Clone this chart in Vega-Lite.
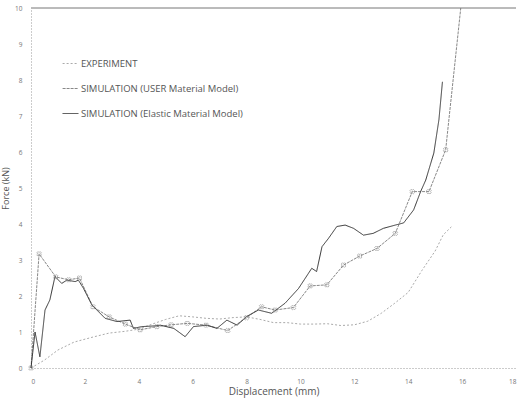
{
  "$schema": "https://vega.github.io/schema/vega-lite/v6.json",
  "width": 485,
  "height": 360,
  "autosize": {"type": "none"},
  "padding": {"left": 31, "top": 8, "right": 2, "bottom": 31},
  "background": "white",
  "config": {
    "view": {"stroke": null},
    "font": "Open Sans",
    "axisY": {
      "labelOverlap": false,
      "grid": false, "ticks": false,
      "domainDash": [1, 2], "domainColor": "#999",
      "labelFontSize": 6.5, "labelColor": "#777", "labelPadding": 9,
      "titleFontSize": 9, "titleFontWeight": "normal",
      "titleColor": "#555", "titlePadding": 4
    },
    "axisX": {
      "grid": false, "ticks": false,
      "domainDash": [1, 2], "domainColor": "#999",
      "labelFontSize": 6.5, "labelColor": "#777", "labelPadding": 10,
      "titleFontSize": 10, "titleFontWeight": "normal",
      "titleColor": "#555", "titlePadding": 2
    }
  },
  "datasets": {
    "curves": [
      {"series": "EXPERIMENT", "x": 0, "y": 0},
      {"series": "EXPERIMENT", "x": 0.5, "y": 0.22},
      {"series": "EXPERIMENT", "x": 1.0, "y": 0.5},
      {"series": "EXPERIMENT", "x": 1.6, "y": 0.72},
      {"series": "EXPERIMENT", "x": 2.3, "y": 0.86},
      {"series": "EXPERIMENT", "x": 2.9, "y": 0.97},
      {"series": "EXPERIMENT", "x": 3.5, "y": 1.02},
      {"series": "EXPERIMENT", "x": 4.0, "y": 1.08},
      {"series": "EXPERIMENT", "x": 4.5, "y": 1.22},
      {"series": "EXPERIMENT", "x": 5.0, "y": 1.35},
      {"series": "EXPERIMENT", "x": 5.5, "y": 1.45},
      {"series": "EXPERIMENT", "x": 6.0, "y": 1.42},
      {"series": "EXPERIMENT", "x": 6.5, "y": 1.38},
      {"series": "EXPERIMENT", "x": 7.0, "y": 1.36},
      {"series": "EXPERIMENT", "x": 7.5, "y": 1.4},
      {"series": "EXPERIMENT", "x": 8.0, "y": 1.42},
      {"series": "EXPERIMENT", "x": 8.5, "y": 1.35},
      {"series": "EXPERIMENT", "x": 9.0, "y": 1.26},
      {"series": "EXPERIMENT", "x": 9.5, "y": 1.26},
      {"series": "EXPERIMENT", "x": 10.0, "y": 1.22},
      {"series": "EXPERIMENT", "x": 10.5, "y": 1.22},
      {"series": "EXPERIMENT", "x": 11.0, "y": 1.23},
      {"series": "EXPERIMENT", "x": 11.5, "y": 1.18},
      {"series": "EXPERIMENT", "x": 12.0, "y": 1.2},
      {"series": "EXPERIMENT", "x": 12.5, "y": 1.3},
      {"series": "EXPERIMENT", "x": 13.0, "y": 1.52},
      {"series": "EXPERIMENT", "x": 13.5, "y": 1.8},
      {"series": "EXPERIMENT", "x": 14.0, "y": 2.1},
      {"series": "EXPERIMENT", "x": 14.5, "y": 2.7},
      {"series": "EXPERIMENT", "x": 15.0, "y": 3.25},
      {"series": "EXPERIMENT", "x": 15.3, "y": 3.7},
      {"series": "EXPERIMENT", "x": 15.6, "y": 3.92},
      {"series": "SIMULATION (USER Material Model)", "x": 0, "y": 0},
      {"series": "SIMULATION (USER Material Model)", "x": 0.3, "y": 3.17},
      {"series": "SIMULATION (USER Material Model)", "x": 0.92, "y": 2.53},
      {"series": "SIMULATION (USER Material Model)", "x": 1.4, "y": 2.45},
      {"series": "SIMULATION (USER Material Model)", "x": 1.8, "y": 2.5},
      {"series": "SIMULATION (USER Material Model)", "x": 2.3, "y": 1.7},
      {"series": "SIMULATION (USER Material Model)", "x": 2.9, "y": 1.42},
      {"series": "SIMULATION (USER Material Model)", "x": 3.5, "y": 1.22},
      {"series": "SIMULATION (USER Material Model)", "x": 4.05, "y": 1.06},
      {"series": "SIMULATION (USER Material Model)", "x": 4.67, "y": 1.15},
      {"series": "SIMULATION (USER Material Model)", "x": 5.2, "y": 1.2},
      {"series": "SIMULATION (USER Material Model)", "x": 5.8, "y": 1.24},
      {"series": "SIMULATION (USER Material Model)", "x": 6.5, "y": 1.19},
      {"series": "SIMULATION (USER Material Model)", "x": 7.3, "y": 1.04},
      {"series": "SIMULATION (USER Material Model)", "x": 8.0, "y": 1.4},
      {"series": "SIMULATION (USER Material Model)", "x": 8.56, "y": 1.7},
      {"series": "SIMULATION (USER Material Model)", "x": 9.06, "y": 1.61},
      {"series": "SIMULATION (USER Material Model)", "x": 9.74, "y": 1.68},
      {"series": "SIMULATION (USER Material Model)", "x": 10.36, "y": 2.28},
      {"series": "SIMULATION (USER Material Model)", "x": 10.98, "y": 2.31},
      {"series": "SIMULATION (USER Material Model)", "x": 11.6, "y": 2.86},
      {"series": "SIMULATION (USER Material Model)", "x": 12.2, "y": 3.11},
      {"series": "SIMULATION (USER Material Model)", "x": 12.84, "y": 3.32},
      {"series": "SIMULATION (USER Material Model)", "x": 13.52, "y": 3.74},
      {"series": "SIMULATION (USER Material Model)", "x": 14.15, "y": 4.9},
      {"series": "SIMULATION (USER Material Model)", "x": 14.77, "y": 4.9},
      {"series": "SIMULATION (USER Material Model)", "x": 15.39, "y": 6.06},
      {"series": "SIMULATION (USER Material Model)", "x": 15.95, "y": 10},
      {"series": "SIMULATION (Elastic Material Model)", "x": 0, "y": 0},
      {"series": "SIMULATION (Elastic Material Model)", "x": 0.15, "y": 1.0},
      {"series": "SIMULATION (Elastic Material Model)", "x": 0.33, "y": 0.31},
      {"series": "SIMULATION (Elastic Material Model)", "x": 0.52, "y": 1.61},
      {"series": "SIMULATION (Elastic Material Model)", "x": 0.7, "y": 1.89},
      {"series": "SIMULATION (Elastic Material Model)", "x": 0.89, "y": 2.54},
      {"series": "SIMULATION (Elastic Material Model)", "x": 1.14, "y": 2.35},
      {"series": "SIMULATION (Elastic Material Model)", "x": 1.33, "y": 2.44},
      {"series": "SIMULATION (Elastic Material Model)", "x": 1.64, "y": 2.4},
      {"series": "SIMULATION (Elastic Material Model)", "x": 1.76, "y": 2.44},
      {"series": "SIMULATION (Elastic Material Model)", "x": 1.95, "y": 2.21},
      {"series": "SIMULATION (Elastic Material Model)", "x": 2.26, "y": 1.75},
      {"series": "SIMULATION (Elastic Material Model)", "x": 2.75, "y": 1.38},
      {"series": "SIMULATION (Elastic Material Model)", "x": 3.19, "y": 1.29},
      {"series": "SIMULATION (Elastic Material Model)", "x": 3.68, "y": 1.33},
      {"series": "SIMULATION (Elastic Material Model)", "x": 3.8, "y": 1.1},
      {"series": "SIMULATION (Elastic Material Model)", "x": 4.11, "y": 1.15},
      {"series": "SIMULATION (Elastic Material Model)", "x": 4.6, "y": 1.17},
      {"series": "SIMULATION (Elastic Material Model)", "x": 4.8, "y": 1.19},
      {"series": "SIMULATION (Elastic Material Model)", "x": 5.3, "y": 1.1},
      {"series": "SIMULATION (Elastic Material Model)", "x": 5.72, "y": 0.87},
      {"series": "SIMULATION (Elastic Material Model)", "x": 6.03, "y": 1.15},
      {"series": "SIMULATION (Elastic Material Model)", "x": 6.53, "y": 1.19},
      {"series": "SIMULATION (Elastic Material Model)", "x": 6.9, "y": 1.1},
      {"series": "SIMULATION (Elastic Material Model)", "x": 7.27, "y": 1.33},
      {"series": "SIMULATION (Elastic Material Model)", "x": 7.65, "y": 1.19},
      {"series": "SIMULATION (Elastic Material Model)", "x": 8.0, "y": 1.43},
      {"series": "SIMULATION (Elastic Material Model)", "x": 8.44, "y": 1.61},
      {"series": "SIMULATION (Elastic Material Model)", "x": 8.93, "y": 1.52},
      {"series": "SIMULATION (Elastic Material Model)", "x": 9.43, "y": 1.8},
      {"series": "SIMULATION (Elastic Material Model)", "x": 9.93, "y": 2.21},
      {"series": "SIMULATION (Elastic Material Model)", "x": 10.42, "y": 2.77},
      {"series": "SIMULATION (Elastic Material Model)", "x": 10.6, "y": 2.68},
      {"series": "SIMULATION (Elastic Material Model)", "x": 10.8, "y": 3.37},
      {"series": "SIMULATION (Elastic Material Model)", "x": 11.04, "y": 3.6},
      {"series": "SIMULATION (Elastic Material Model)", "x": 11.35, "y": 3.93},
      {"series": "SIMULATION (Elastic Material Model)", "x": 11.66, "y": 3.97},
      {"series": "SIMULATION (Elastic Material Model)", "x": 11.97, "y": 3.88},
      {"series": "SIMULATION (Elastic Material Model)", "x": 12.34, "y": 3.69},
      {"series": "SIMULATION (Elastic Material Model)", "x": 12.7, "y": 3.74},
      {"series": "SIMULATION (Elastic Material Model)", "x": 13.08, "y": 3.88},
      {"series": "SIMULATION (Elastic Material Model)", "x": 13.52, "y": 3.97},
      {"series": "SIMULATION (Elastic Material Model)", "x": 13.83, "y": 4.03},
      {"series": "SIMULATION (Elastic Material Model)", "x": 14.2, "y": 4.39},
      {"series": "SIMULATION (Elastic Material Model)", "x": 14.46, "y": 4.9},
      {"series": "SIMULATION (Elastic Material Model)", "x": 14.65, "y": 5.22},
      {"series": "SIMULATION (Elastic Material Model)", "x": 14.95, "y": 5.97},
      {"series": "SIMULATION (Elastic Material Model)", "x": 15.14, "y": 6.9},
      {"series": "SIMULATION (Elastic Material Model)", "x": 15.27, "y": 7.95}
    ]
  },
  "layer": [
    {
      "data": {"name": "curves"},
      "mark": {"type": "line", "strokeWidth": 1},
      "encoding": {
        "x": {
          "field": "x", "type": "quantitative",
          "scale": {"domain": [0, 18]},
          "axis": {"title": "Displacement (mm)", "values": [0, 2, 4, 6, 8, 10, 12, 14, 16, 18]}
        },
        "y": {
          "field": "y", "type": "quantitative",
          "scale": {"domain": [0, 10]},
          "axis": {"title": "Force (kN)", "values": [0, 1, 2, 3, 4, 5, 6, 7, 8, 9, 10]}
        },
        "color": {
          "field": "series", "type": "nominal",
          "scale": {
            "domain": ["EXPERIMENT", "SIMULATION (USER Material Model)", "SIMULATION (Elastic Material Model)"],
            "range": ["#aaaaaa", "#888888", "#333333"]
          },
          "legend": {
            "orient": "none", "legendX": 31, "legendY": 47, "title": null,
            "symbolType": "stroke", "symbolSize": 250, "symbolStrokeWidth": 1,
            "labelFontSize": 9.5, "labelColor": "#555", "rowPadding": 12, "labelOffset": 2, "labelLimit": 400
          }
        },
        "strokeDash": {
          "field": "series", "type": "nominal",
          "scale": {
            "domain": ["EXPERIMENT", "SIMULATION (USER Material Model)", "SIMULATION (Elastic Material Model)"],
            "range": [[2, 2], [3, 1], [1, 0]]
          },
          "legend": {
            "orient": "none", "legendX": 31, "legendY": 47, "title": null,
            "symbolType": "stroke", "symbolSize": 250, "symbolStrokeWidth": 1,
            "labelFontSize": 9.5, "labelColor": "#555", "rowPadding": 12, "labelOffset": 2, "labelLimit": 400
          }
        }
      }
    },
    {
      "data": {"name": "curves"},
      "transform": [{"filter": "datum.series === 'SIMULATION (USER Material Model)' && datum.y < 10"}],
      "mark": {"type": "point", "shape": "cross", "angle": 45, "size": 22, "filled": false, "color": "#888", "strokeWidth": 0.8},
      "encoding": {
        "x": {"field": "x", "type": "quantitative", "axis": {"title": "Displacement (mm)", "values": [0, 2, 4, 6, 8, 10, 12, 14, 16, 18]}},
        "y": {"field": "y", "type": "quantitative", "axis": {"title": "Force (kN)", "values": [0, 1, 2, 3, 4, 5, 6, 7, 8, 9, 10]}}
      }
    },
    {
      "data": {"values": [{"y": 10}]},
      "mark": {"type": "rule", "color": "#777", "strokeWidth": 1},
      "encoding": {"y": {"field": "y", "type": "quantitative", "axis": {"title": "Force (kN)", "values": [0, 1, 2, 3, 4, 5, 6, 7, 8, 9, 10]}}}
    }
  ]
}
